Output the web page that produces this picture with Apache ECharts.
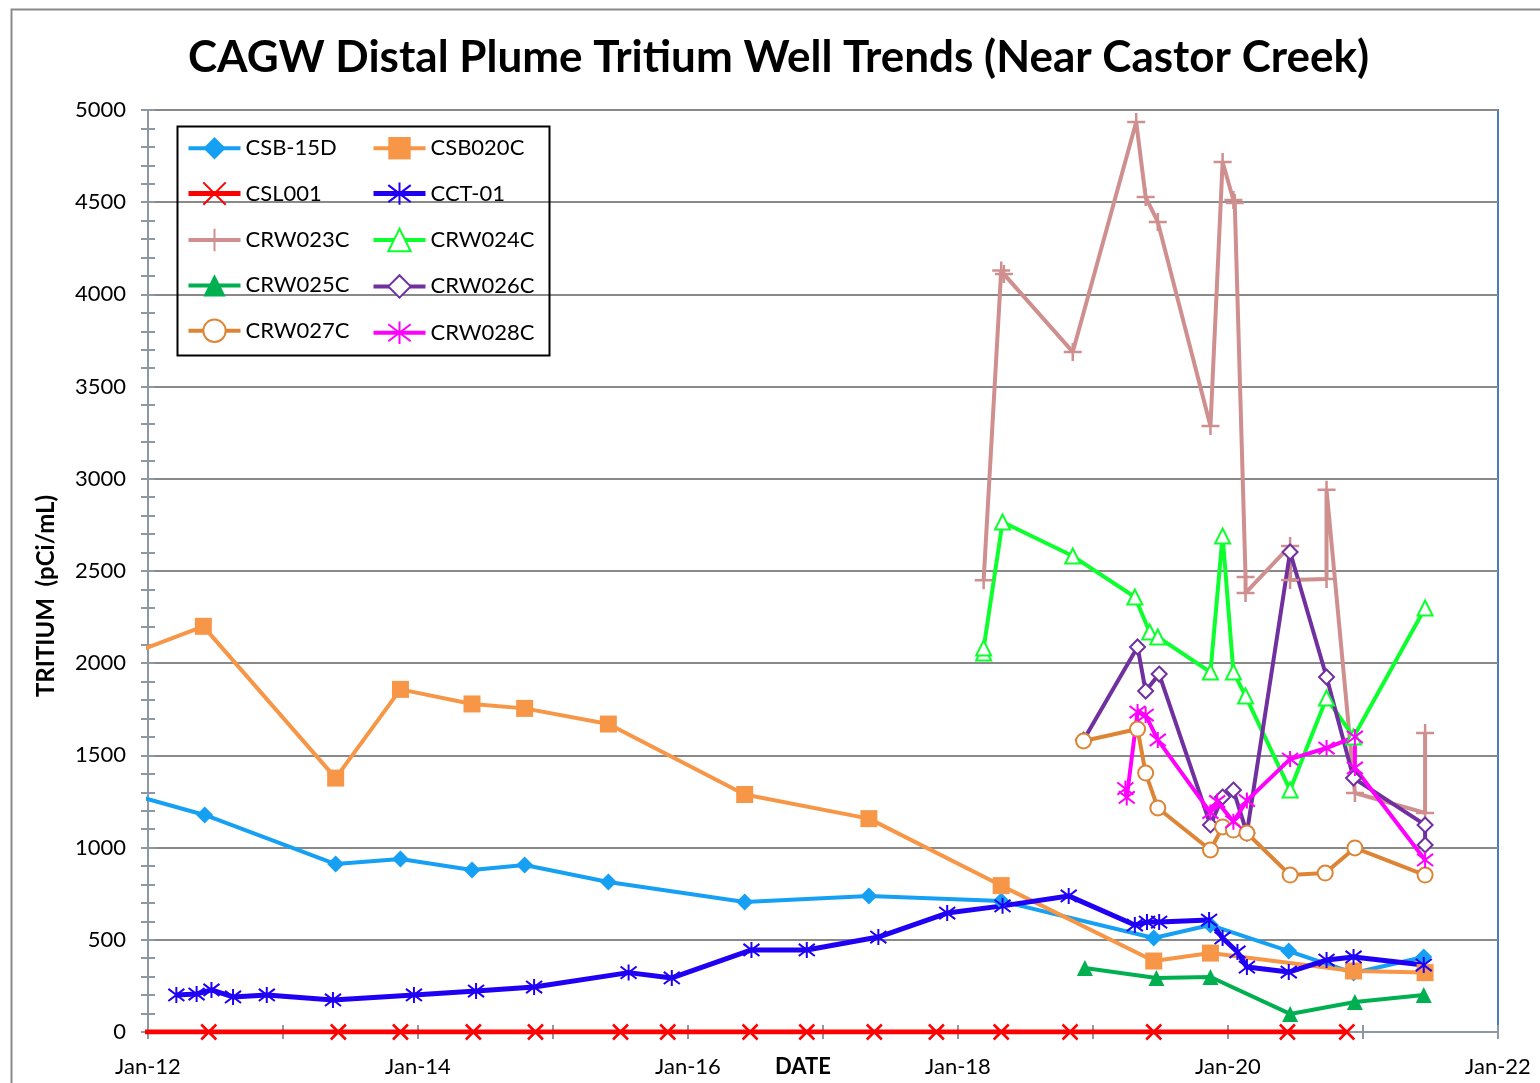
<!DOCTYPE html>
<html><head><meta charset="utf-8">
<script src="https://cdn.jsdelivr.net/npm/echarts@6/dist/echarts.min.js"></script>
<style>html,body{margin:0;padding:0;background:#fff}#c{width:1540px;height:1083px}</style>
</head><body><div id="c"></div>
<script>
// ---- DATA (dates as decimal years) ----
const titleText = 'CAGW Distal Plume Tritium Well Trends (Near Castor Creek)';
const yTicks = [0, 500, 1000, 1500, 2000, 2500, 3000, 3500, 4000, 4500, 5000];
const xTickLabels = ['Jan-12', 'Jan-14', 'Jan-16', 'Jan-18', 'Jan-20', 'Jan-22'];

const csb15dDates  = [2011.5, 2012.42, 2013.39, 2013.87, 2014.40, 2014.79, 2015.41, 2016.42, 2017.34, 2018.32, 2019.45, 2019.87, 2020.45, 2020.93, 2021.45];
const csb15dValues = [1365, 1177, 911, 938, 879, 906, 813, 705, 738, 710, 510, 580, 439, 320, 407];

const csb020cDates  = [2011.5, 2012.41, 2013.39, 2013.87, 2014.40, 2014.79, 2015.41, 2016.42, 2017.34, 2018.32, 2019.45, 2019.87, 2020.93, 2021.46];
const csb020cValues = [1947, 2200, 1377, 1858, 1779, 1755, 1670, 1288, 1157, 794, 385, 428, 331, 322];

const csl001Dates  = [2011.5, 2012.45, 2013.41, 2013.87, 2014.41, 2014.87, 2015.50, 2015.85, 2016.46, 2016.88, 2017.38, 2017.84, 2018.32, 2018.83, 2019.45, 2020.44, 2020.88];
const csl001Values = [0, 0, 0, 0, 0, 0, 0, 0, 0, 0, 0, 0, 0, 0, 0, 0, 0];

const cct01Dates  = [2012.21, 2012.36, 2012.47, 2012.63, 2012.88, 2013.37, 2013.97, 2014.43, 2014.86, 2015.56, 2015.88, 2016.47, 2016.88, 2017.41, 2017.92, 2018.33, 2018.82, 2019.31, 2019.40, 2019.49, 2019.86, 2019.96, 2020.07, 2020.14, 2020.45, 2020.73, 2020.93, 2021.45];
const cct01Values = [201, 206, 228, 190, 201, 174, 201, 222, 244, 322, 293, 445, 445, 515, 645, 684, 738, 580, 596, 596, 607, 510, 434, 352, 325, 390, 407, 363];

const crw023cDates  = [2018.19, 2018.32, 2018.34, 2018.85, 2019.32, 2019.39, 2019.48, 2019.87, 2019.96, 2020.04, 2020.05, 2020.13, 2020.13, 2020.46, 2020.46, 2020.73, 2020.73, 2020.94, 2021.46, 2021.46];
const crw023cValues = [2450, 4130, 4110, 3688, 4935, 4528, 4393, 3286, 4718, 4512, 4496, 2468, 2381, 2636, 2451, 2457, 2940, 1296, 1188, 1621];

const crw024cDates  = [2018.19, 2018.19, 2018.33, 2018.85, 2019.31, 2019.42, 2019.48, 2019.87, 2019.96, 2020.04, 2020.13, 2020.46, 2020.73, 2020.93, 2021.46];
const crw024cValues = [2055, 2082, 2766, 2581, 2359, 2169, 2142, 1952, 2690, 1952, 1822, 1312, 1811, 1600, 2299];

const crw025cDates  = [2018.94, 2019.47, 2019.87, 2020.46, 2020.94, 2021.45];
const crw025cValues = [347, 293, 298, 98, 163, 201];

const crw026cDates  = [2018.93, 2019.33, 2019.39, 2019.49, 2019.87, 2019.96, 2020.04, 2020.14, 2020.46, 2020.73, 2020.93, 2021.46, 2021.46];
const crw026cValues = [1583, 2088, 1849, 1941, 1123, 1274, 1312, 1079, 2603, 1925, 1377, 1123, 1014];

const crw027cDates  = [2018.93, 2019.33, 2019.39, 2019.48, 2019.87, 2019.96, 2020.04, 2020.14, 2020.46, 2020.72, 2020.94, 2021.46];
const crw027cValues = [1578, 1643, 1404, 1215, 987, 1112, 1095, 1079, 851, 862, 998, 851];

const crw028cDates  = [2019.24, 2019.25, 2019.33, 2019.39, 2019.48, 2019.87, 2019.92, 2020.04, 2020.14, 2020.46, 2020.73, 2020.94, 2020.94, 2021.46];
const crw028cValues = [1320, 1272, 1735, 1719, 1584, 1190, 1250, 1140, 1255, 1480, 1540, 1600, 1432, 933];

// ---- STYLE ----
const FONT = 'Lato';
const X_PATH = 'path://M0,0L10,10M0,10L10,0';
const STAR_PATH = 'path://M5,0L5,10M0.8,1.2L9.2,8.8M0.8,8.8L9.2,1.2';
const PLUS_PATH = 'path://M5,0L5,10M0,5L10,5';

function pairs(d, v) { return d.map((x, i) => [x, v[i]]); }

function mk(name, dates, vals, color, symbol, size, lw, stroke) {
  const isPath = symbol.indexOf('path://') === 0;
  const isEmpty = symbol.indexOf('empty') === 0;
  return {
    name, type: 'line', data: pairs(dates, vals),
    symbol, symbolSize: size, clip: true,
    lineStyle: { color, width: lw },
    itemStyle: (isPath || isEmpty) ? { color, borderColor: color, borderWidth: stroke || 2 } : { color },
    emphasis: { disabled: true },
    animation: false
  };
}

const series = [
  mk('CSB-15D', csb15dDates, csb15dValues, '#16A0F3', 'diamond', 17, 4),
  mk('CSB020C', csb020cDates, csb020cValues, '#F79646', 'rect', 17, 4),
  mk('CSL001', csl001Dates, csl001Values, '#FF0000', X_PATH, 15, 5, 2.5),
  mk('CCT-01', cct01Dates, cct01Values, '#2000F5', STAR_PATH, 16, 5, 2),
  mk('CRW023C', crw023cDates, crw023cValues, '#CF8F8F', PLUS_PATH, 18, 4, 2.5),
  mk('CRW024C', crw024cDates, crw024cValues, '#0DFF2E', 'emptyTriangle', 15, 4, 2.5),
  mk('CRW025C', crw025cDates, crw025cValues, '#00B050', 'triangle', 16, 4),
  mk('CRW026C', crw026cDates, crw026cValues, '#7030A0', 'emptyDiamond', 15, 4, 2.5),
  mk('CRW027C', crw027cDates, crw027cValues, '#DD8435', 'emptyCircle', 15, 4, 2.5),
  mk('CRW028C', crw028cDates, crw028cValues, '#FF00FF', STAR_PATH, 16, 4, 2)
];

const AXIS_GRAY = '#8D98A5';
const GRID = { left: 148, top: 110, right: 42, bottom: 51, containLabel: false, outerBoundsMode: 'none' };

const legendCommon = {
  orient: 'vertical', itemWidth: 52, itemHeight: 28, itemGap: 22, padding: 0,
  textStyle: { fontFamily: FONT, fontSize: 22, color: '#000' },
  lineStyle: { width: 'inherit' },
  selectedMode: false
};

const option = {
  backgroundColor: '#fff',
  animation: false,
  title: {
    text: titleText, left: 183, top: 31,
    textStyle: { fontFamily: FONT, fontWeight: 'bold', fontSize: 44, color: '#000' }
  },
  grid: [
    Object.assign({ show: true, borderColor: '#4A7EBB', borderWidth: 2, backgroundColor: 'transparent' }, GRID),
    Object.assign({}, GRID)
  ],
  legend: [
    Object.assign({ left: 186, top: 137, data: ['CSB-15D', 'CSL001', 'CRW023C', 'CRW025C', 'CRW027C'] }, legendCommon),
    Object.assign({ left: 371, top: 137, data: ['CSB020C', 'CCT-01', 'CRW024C', 'CRW026C', 'CRW028C'] }, legendCommon)
  ],
  xAxis: [
    {
      type: 'value', gridIndex: 0, min: 2012, max: 2022, interval: 1,
      name: 'DATE', nameLocation: 'middle', nameGap: 24, nameMoveOverlap: false,
      nameTextStyle: { fontFamily: FONT, fontWeight: 'bold', fontSize: 22, color: '#000', padding: [0, 40, 0, 0] },
      axisLine: { onZero: false, lineStyle: { color: AXIS_GRAY, width: 2 } },
      axisTick: { show: true, length: 7, lineStyle: { color: AXIS_GRAY, width: 2 } },
      axisLabel: {
        margin: 24, fontFamily: FONT, fontSize: 22, color: '#000',
        formatter: v => {
          const lab = 'Jan-' + String(Math.round(v)).slice(2);
          return xTickLabels.indexOf(lab) >= 0 ? lab : '';
        }
      },
      splitLine: { show: false }
    },
    {
      type: 'value', gridIndex: 1, min: 2012, max: 2022, interval: 1,
      axisLine: { show: false },
      axisTick: { show: true, inside: true, length: 7, lineStyle: { color: AXIS_GRAY, width: 2 } },
      axisLabel: { show: false }, splitLine: { show: false }
    }
  ],
  yAxis: [
    {
      type: 'value', gridIndex: 0, min: yTicks[0], max: yTicks[yTicks.length - 1], interval: 500,
      name: 'TRITIUM  (pCi/mL)', nameLocation: 'middle', nameGap: 90, nameRotate: 90, nameMoveOverlap: false,
      nameTextStyle: { fontFamily: FONT, fontWeight: 'bold', fontSize: 24, color: '#000', padding: [0, 50, 0, 0] },
      axisLine: { show: true, lineStyle: { color: AXIS_GRAY, width: 2 } },
      axisTick: { show: true, length: 7, lineStyle: { color: AXIS_GRAY, width: 2 } },
      minorTick: { show: true, splitNumber: 5, length: 7, lineStyle: { color: AXIS_GRAY, width: 2 } },
      axisLabel: { margin: 22, fontFamily: FONT, fontSize: 22, color: '#000', formatter: v => String(v) },
      splitLine: { show: true, lineStyle: { color: '#898989', width: 2 } }
    },
    {
      type: 'value', gridIndex: 1, min: 0, max: 5000, interval: 500,
      axisLine: { show: false },
      axisTick: { show: true, inside: true, length: 7, lineStyle: { color: AXIS_GRAY, width: 2 } },
      minorTick: { show: true, splitNumber: 5, length: 7, lineStyle: { color: AXIS_GRAY, width: 2 } },
      axisLabel: { show: false }, splitLine: { show: false }
    }
  ],
  graphic: [
    { type: 'rect', left: 9, top: 7, shape: { width: 1600, height: 1200 }, style: { fill: 'none', stroke: '#8A8A8A', lineWidth: 2 }, silent: true, z: -10 },
    { type: 'rect', left: 175, top: 124, shape: { width: 372, height: 229 }, style: { fill: 'none', stroke: '#000', lineWidth: 2 }, silent: true, z: 10 }
  ],
  series: series
};

const chart = echarts.init(document.getElementById('c'), null, { renderer: 'canvas' });
chart.setOption(option);
</script>
</body></html>
